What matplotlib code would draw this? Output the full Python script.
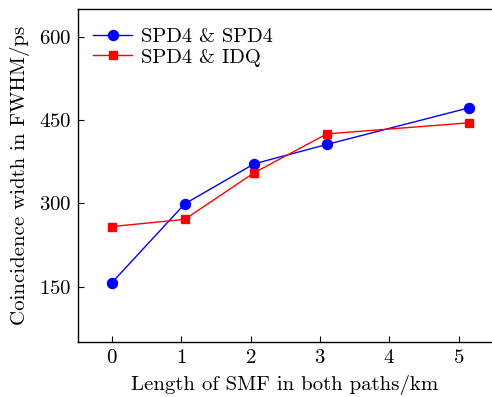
import matplotlib
matplotlib.use("Agg")
import matplotlib.pyplot as plt

plt.rcParams['font.family'] = 'serif'
plt.rcParams['font.serif'] = ['cmr10']
plt.rcParams['mathtext.fontset'] = 'cm'
plt.rcParams['axes.formatter.use_mathtext'] = True

x_spd4 = [0, 1.05, 2.05, 3.10, 5.15]
y_spd4 = [157, 299, 371, 406, 472]
x_idq = [0, 1.05, 2.05, 3.10, 5.15]
y_idq = [258, 271, 355, 425, 445]
xticks = [0, 1, 2, 3, 4, 5]
yticks = [150, 300, 450, 600]

fig = plt.figure(figsize=(4.92, 3.97), dpi=100)
ax = fig.add_axes([78/492, 55/397, 1 - 78/492, (342-9)/397])

ax.plot(x_spd4, y_spd4, color='blue', marker='o', markersize=7.2, linewidth=1.0, label='SPD4 & SPD4')
ax.plot(x_idq, y_idq, color='red', marker='s', markersize=6.3, linewidth=1.0, label='SPD4 & IDQ')

ax.set_xlim(-0.49, 5.48)
ax.set_ylim(50, 650)
ax.set_xticks(xticks)
ax.set_yticks(yticks)
ax.tick_params(direction='in', length=4, width=0.8, labelsize=15, pad=5)
ax.spines['right'].set_visible(False)
for s in ['left', 'bottom', 'top']:
    ax.spines[s].set_linewidth(1.0)

ax.set_xlabel('Length of SMF in both paths/km', fontsize=15, labelpad=6)
ax.set_ylabel('Coincidence width in FWHM/ps', fontsize=15, labelpad=6)

ax.legend(loc='upper left', frameon=False, fontsize=14.8, handlelength=1.9,
          bbox_to_anchor=(0.0, 0.99), borderaxespad=0.35, labelspacing=0.1, handletextpad=0.4)

fig.savefig('out.png', dpi=100)
